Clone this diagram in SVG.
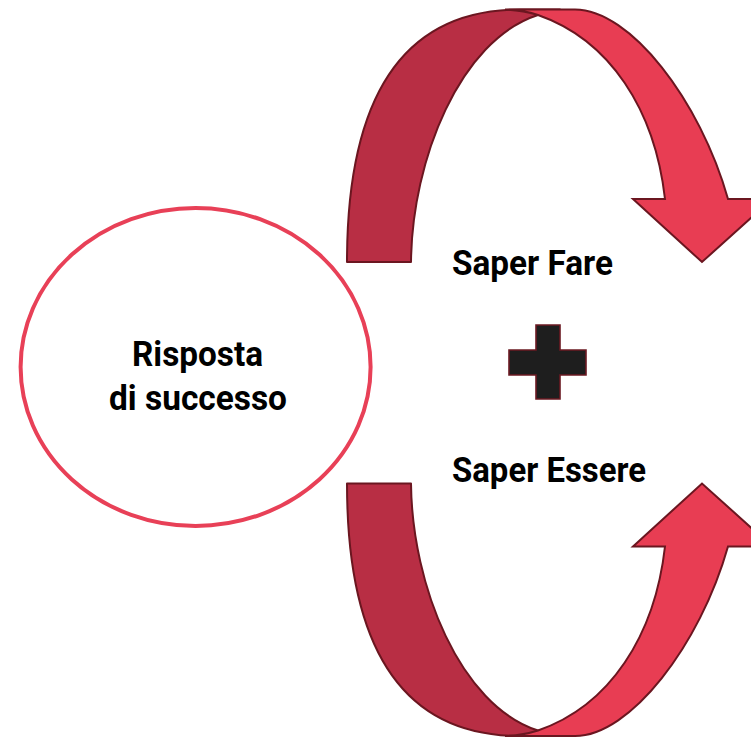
<svg xmlns="http://www.w3.org/2000/svg" width="751" height="739" viewBox="0 0 751 739">
<style>
.back{fill:#b82e44;stroke:#6b1620;stroke-width:2;stroke-linejoin:round}
.front{fill:#e83d53;stroke:#6b1620;stroke-width:2;stroke-linejoin:miter}
.lbl{font-family:"Roboto","Liberation Sans",sans-serif;font-weight:bold;font-size:35.5px;fill:#000}
</style>
<defs>
<g id="curvedArrow">
<path class="back" d="M347,262 C347,100 400,9.5 520,9.5 L560,9.5 C550,10 545,12 538,15 C460,40 412,160 411,262 Z"/>
<path class="front" d="M505,9.5 L575,9.5 C630,9.5 700,100 728,199 L772,199 L702,262 L633,199 L665,199 C655,110 610,40 538,15 Q522,10 505,9.5 Z"/>
</g>
</defs>
<g id="connectors">
<use id="arrow-top" href="#curvedArrow"/>
<use id="arrow-bottom" href="#curvedArrow" transform="translate(0,745.5) scale(1,-1)"/>
</g>
<g id="node-risposta">
<ellipse cx="195.6" cy="367" rx="175" ry="159" fill="#fff" stroke="#e84057" stroke-width="4"/>
<text class="lbl" x="132" y="366" textLength="131" lengthAdjust="spacingAndGlyphs">Risposta</text>
<text class="lbl" x="109" y="410" textLength="178" lengthAdjust="spacingAndGlyphs">di successo</text>
</g>
<g id="node-saper-fare">
<text class="lbl" x="452" y="275" textLength="161" lengthAdjust="spacingAndGlyphs">Saper Fare</text>
</g>
<g id="node-plus">
<path d="M536,325 H560 V350 H586 V375 H560 V399 H536 V375 H509 V350 H536 Z" fill="#1e1e1e" stroke="#6b1a22" stroke-width="1.6"/>
</g>
<g id="node-saper-essere">
<text class="lbl" x="452" y="482" textLength="194" lengthAdjust="spacingAndGlyphs">Saper Essere</text>
</g>
</svg>
